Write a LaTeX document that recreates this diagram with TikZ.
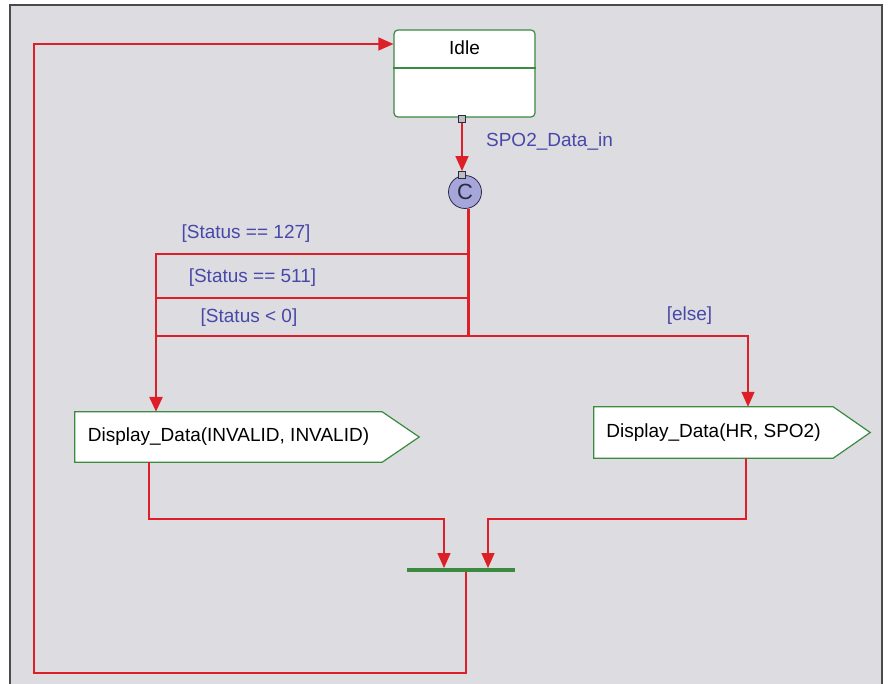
\documentclass[tikz,border=0pt]{standalone}
\usepackage{fontspec}
\usepackage{xcolor}
\usepackage{tikz}
\usetikzlibrary{positioning,arrows.meta,calc}
\newfontfamily\chartfont{Liberation Sans}
\definecolor{panel}{HTML}{DDDCE1}
\definecolor{frame}{HTML}{4A4A4A}
\definecolor{wire}{HTML}{DD2027}
\definecolor{leaf}{HTML}{3A8A40}
\definecolor{guard}{HTML}{4848A8}
\definecolor{lilac}{HTML}{A6A6DA}
\definecolor{ink}{HTML}{2A2A48}

\begin{document}
\begin{tikzpicture}[
  x=1pt, y=-1pt,
  every node/.style={font=\chartfont\fontsize{19}{22}\selectfont},
  state/.style={draw=leaf, fill=white, rounded corners=4pt, line width=1.2pt, minimum width=141pt, minimum height=87pt},
  port/.style={draw=ink, fill=lightgray, line width=0.8pt, minimum size=7pt, inner sep=0pt},
  junction/.style={circle, draw=ink, fill=lilac, line width=0.8pt, minimum size=33pt, inner sep=0pt, text=ink, font=\chartfont\fontsize{22}{22}\selectfont},
  action/.style={rectangle, fill=white, inner sep=0pt, minimum height=50pt},
  guardtext/.style={text=guard},
  edge/.style={draw=leaf, line width=1.2pt},
  line/.style={draw=wire, line width=1.4pt},
  arrow/.style={-{Triangle[length=15pt,width=13pt]}, draw=wire, line width=1.4pt}
]
  \useasboundingbox (0,0) rectangle (889,684);
  \fill[white] (0,0) rectangle (889,684);
  \fill[panel] (10,5) rectangle (882,684);
  \draw[frame, line width=2pt] (10,684) -- (10,5) -- (882,5) -- (882,684);

  \node[state] (idle) at (464.5,73.5) {};
  \node (idletitle) at (464.5,48) {Idle};
  \draw[edge] (idle.west |- 0,68) -- (idle.east |- 0,68);
  \node[port] (outport) at (462,119) {};
  \node[junction] (cond) at (465,192) {C};
  \node[port] (inport) at (462,175) {};
  \node[guardtext] (trigger) at (549.5,142) {SPO2\_Data\_in};

  \node[action, minimum width=307pt] (disp1) at (228.5,437) {Display\_Data(INVALID, INVALID)};
  \node[action, minimum width=239pt, minimum height=51pt] (disp2) at (713.5,432.5) {Display\_Data(HR, SPO2)};
  \fill[white] (disp1.north east) -- ($(disp1.east)+(37,0)$) -- (disp1.south east) -- cycle;
  \draw[edge] (disp1.north west) -- (disp1.north east) -- ($(disp1.east)+(37,0)$) -- (disp1.south east) -- (disp1.south west) -- cycle;
  \fill[white] (disp2.north east) -- ($(disp2.east)+(37,0)$) -- (disp2.south east) -- cycle;
  \draw[edge] (disp2.north west) -- (disp2.north east) -- ($(disp2.east)+(37,0)$) -- (disp2.south east) -- (disp2.south west) -- cycle;

  \node[guardtext] (g127) at (246,234) {[Status == 127]};
  \node[guardtext] (g511) at (252.5,278) {[Status == 511]};
  \node[guardtext] (gneg) at (249,318) {[Status < 0]};
  \node[guardtext] (gelse) at (689.5,316) {[else]};

  \node[fill=leaf, minimum width=108pt, minimum height=3.5pt, inner sep=0pt] (sync) at (461,570) {};

  \coordinate (fork) at (468,336);
  \coordinate (b1) at (156,254);
  \coordinate (b2) at (156,298);
  \coordinate (b3) at (156,336);
  \coordinate (e1) at (748,336);
  \coordinate (m1) at (444,519);
  \coordinate (m2) at (488,519);
  \coordinate (r1) at (466,673);
  \coordinate (r2) at (34,673);
  \coordinate (r3) at (34,44);

  \draw[arrow] (outport) -- (inport);
  \draw[line, line width=3pt] (cond.south -| fork) -- (fork);
  \draw[line] (b1 -| fork) -- (b1) -- (b3);
  \draw[line] (b2 -| fork) -- (b2);
  \draw[line] (b3) -- (fork);
  \draw[arrow, line width=2.8pt] (b3) -- (b3 |- disp1.north);
  \draw[arrow] (fork) -- (e1) -- (e1 |- disp2.north);
  \draw[arrow] ($(disp1.south west)+(74,0)$) |- (m1) -- (m1 |- sync.north);
  \draw[arrow] ($(disp2.south west)+(152,0)$) |- (m2) -- (m2 |- sync.north);
  \draw[arrow] (sync.south -| r1) -- (r1) -- (r2) -- (r3) -- (idle.west |- r3);
  \node[port] at (outport) {};
  \node[port] at (inport) {};
\end{tikzpicture}
\end{document}
